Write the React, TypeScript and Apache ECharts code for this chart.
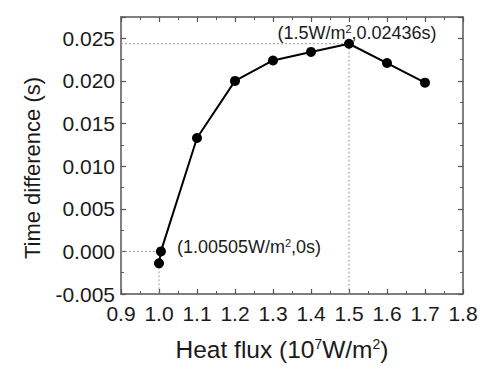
import React, { useEffect, useRef } from "react";
import * as echarts from "echarts";

const heatFlux = [1.0, 1.00505, 1.1, 1.2, 1.3, 1.4, 1.5, 1.6, 1.7];
const timeDiff = [-0.0014, 0.0, 0.0133, 0.0200, 0.0224, 0.0234, 0.02436, 0.0221, 0.0198];

const xTicks = { min: 0.9, max: 1.8, interval: 0.1 };
const yTicks = { min: -0.005, max: 0.0275, interval: 0.005 };

const peakPoint = [1.5, 0.02436];
const zeroPoint = [1.00505, 0];
const lowPoint = [1.0, -0.0014];

const FONT = "'Liberation Sans', Arial, Helvetica, sans-serif";

export default function App() {
  const ref = useRef<HTMLDivElement>(null);
  useEffect(() => {
    if (!ref.current) return;
    const chart = echarts.init(ref.current, null, { renderer: "svg" });
    const axisLine = { show: true, onZero: false, lineStyle: { color: "#555", width: 1.5 } };
    const axisTick = { show: true, inside: true, length: 5, lineStyle: { color: "#555", width: 1.2 } };
    const minorTick = { show: true, splitNumber: 2, length: 3, lineStyle: { color: "#555", width: 1 } };
    const dotted = { color: "#999", width: 1, type: [2, 2] as any };
    const supRich = {
      nrm: { fontSize: 18, fontFamily: FONT, color: "#1a1a1a" },
      sup: { fontSize: 11, fontFamily: FONT, color: "#1a1a1a", verticalAlign: "top", padding: [0, 0, 8, 0] },
    };
    const annLabel = {
      show: true,
      fontSize: 18,
      fontFamily: FONT,
      color: "#1a1a1a",
      verticalAlign: "middle",
      rich: supRich,
    };
    chart.setOption({
      animation: false,
      backgroundColor: "#fff",
      grid: { left: 121, top: 17, right: 37, bottom: 83 },
      xAxis: [
        {
          type: "value",
          min: xTicks.min,
          max: xTicks.max,
          interval: xTicks.interval,
          axisLine,
          axisTick,
          minorTick,
          splitLine: { show: false },
          axisLabel: {
            fontSize: 21,
            fontFamily: FONT,
            color: "#1a1a1a",
            margin: 9,
            formatter: (v: number) => v.toFixed(1),
          },
        },
        {
          type: "value",
          position: "top",
          min: xTicks.min,
          max: xTicks.max,
          interval: xTicks.interval,
          axisLine,
          axisTick,
          minorTick,
          splitLine: { show: false },
          axisLabel: { show: false },
        },
      ],
      yAxis: [
        {
          type: "value",
          min: yTicks.min,
          max: yTicks.max,
          interval: yTicks.interval,
          axisLine,
          axisTick,
          minorTick,
          splitLine: { show: false },
          axisLabel: {
            fontSize: 21,
            fontFamily: FONT,
            color: "#1a1a1a",
            margin: 6,
            formatter: (v: number) => (v > 0.026 ? "" : v.toFixed(3)),
          },
        },
        {
          type: "value",
          position: "right",
          min: yTicks.min,
          max: yTicks.max,
          interval: yTicks.interval,
          axisLine,
          axisTick,
          minorTick,
          splitLine: { show: false },
          axisLabel: { show: false },
        },
      ],
      series: [
        {
          type: "line",
          data: [
            [xTicks.min, peakPoint[1]],
            [peakPoint[0], peakPoint[1]],
            [peakPoint[0], yTicks.min],
          ],
          symbol: "none",
          lineStyle: dotted,
          silent: true,
        },
        {
          type: "line",
          data: [
            [xTicks.min, zeroPoint[1]],
            [zeroPoint[0], zeroPoint[1]],
          ],
          symbol: "none",
          lineStyle: dotted,
          silent: true,
        },
        {
          type: "line",
          data: [
            [lowPoint[0], lowPoint[1]],
            [lowPoint[0], yTicks.min],
          ],
          symbol: "none",
          lineStyle: dotted,
          silent: true,
        },
        {
          type: "line",
          data: heatFlux.map((x, i) => [x, timeDiff[i]]),
          symbol: "circle",
          symbolSize: 10,
          itemStyle: { color: "#000" },
          lineStyle: { color: "#000", width: 2 },
          z: 5,
        },
        {
          type: "scatter",
          symbolSize: 0,
          silent: true,
          itemStyle: { opacity: 1 },
          data: [peakPoint],
          label: {
            ...annLabel,
            position: [8, -11],
            align: "center",
            formatter: "{nrm|(1.5W/m}{sup|2}{nrm|,0.02436s)}",
          },
        },
        {
          type: "scatter",
          symbolSize: 0,
          silent: true,
          itemStyle: { opacity: 1 },
          data: [zeroPoint],
          label: {
            ...annLabel,
            position: [16, -4],
            align: "left",
            formatter: "{nrm|(1.00505W/m}{sup|2}{nrm|,0s)}",
          },
        },
      ],
      graphic: [
        {
          type: "text",
          x: 32,
          y: 168,
          rotation: Math.PI / 2,
          style: {
            text: "Time difference (s)",
            font: `22px ${FONT}`,
            fill: "#1a1a1a",
            align: "center",
            verticalAlign: "middle",
          },
        },
        {
          type: "text",
          x: 282,
          y: 349,
          style: {
            text: "{nrm|Heat flux (10}{sup|7}{nrm|W/m}{sup|2}{nrm|)}",
            align: "center",
            verticalAlign: "middle",
            rich: {
              nrm: { fontSize: 24.5, fontFamily: FONT, fill: "#1a1a1a" },
              sup: { fontSize: 14, fontFamily: FONT, fill: "#1a1a1a", verticalAlign: "top", padding: [0, 0, 10, 0] },
            },
          },
        },
      ],
    });
    return () => chart.dispose();
  }, []);
  return <div ref={ref} style={{ width: 500, height: 377, position: "absolute", left: 0, top: 0 }} />;
}
